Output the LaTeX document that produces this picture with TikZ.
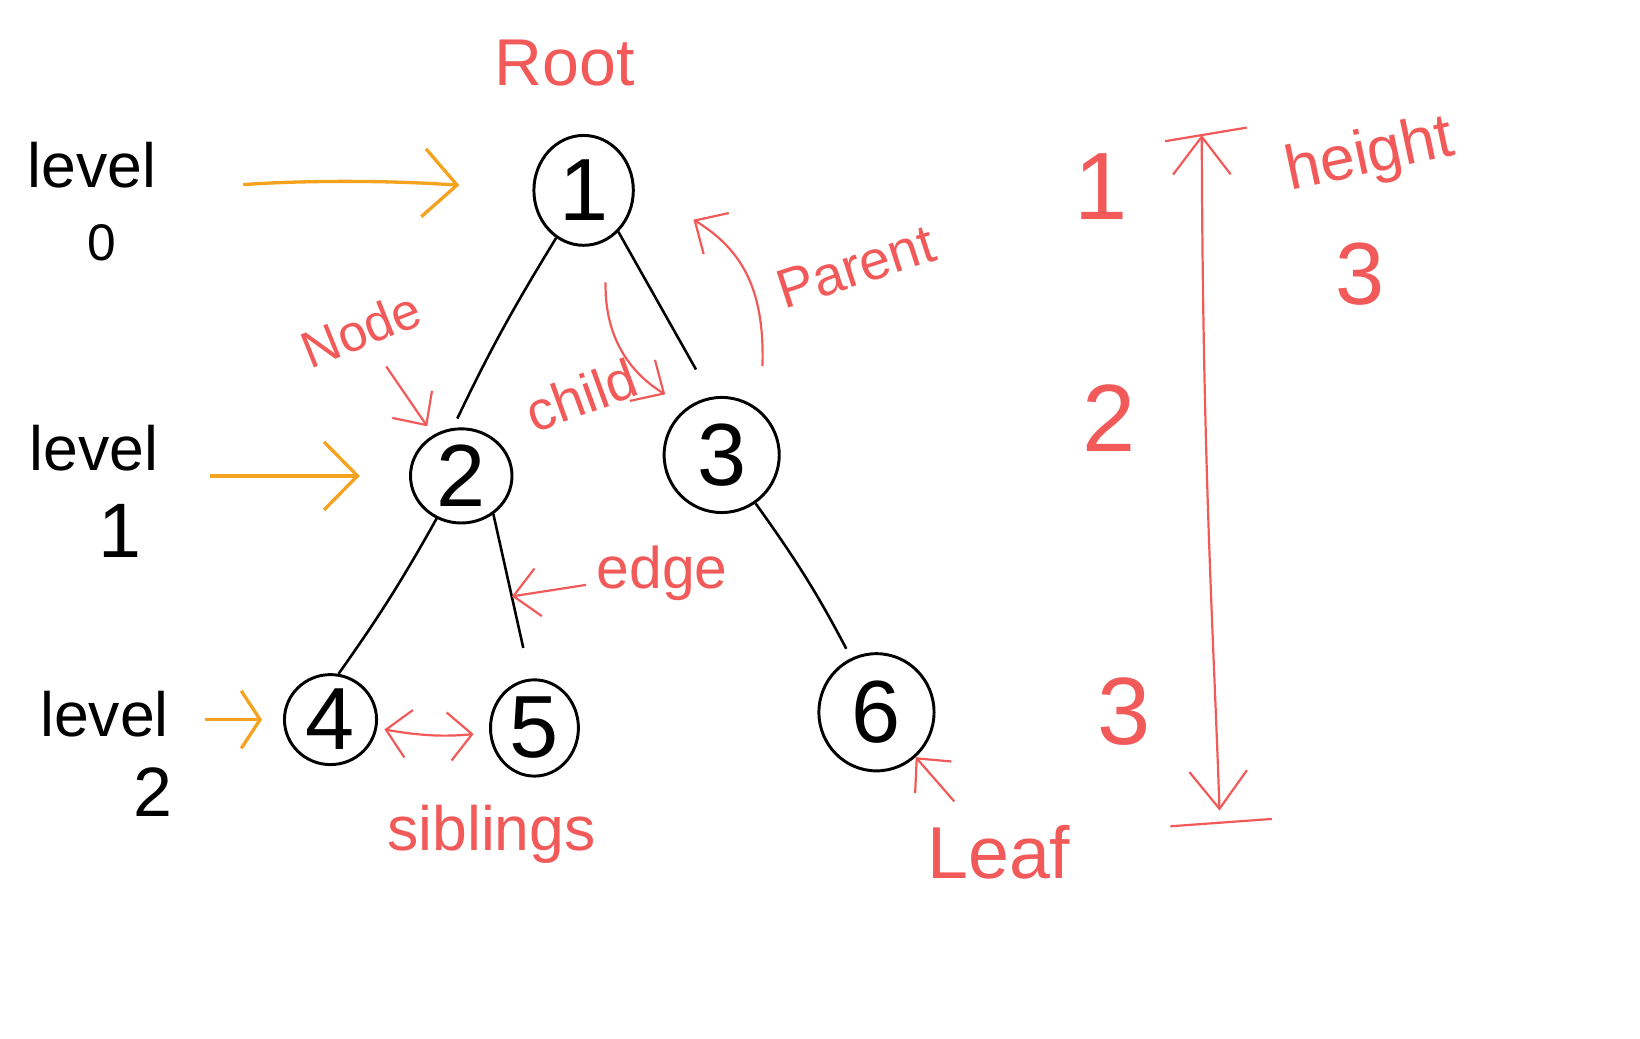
\documentclass[tikz,border=0pt]{standalone}
\usepackage{fontspec}
\setmainfont{Liberation Sans}
\usepackage{xcolor}
\usepackage{tikz}
\usetikzlibrary{positioning,arrows.meta,shapes.geometric,calc}
\definecolor{penred}{HTML}{F25A5A}
\definecolor{penorange}{HTML}{F5A21F}
\tikzset{
  vert/.style={draw,ellipse,line width=0.8pt,inner sep=0pt,font=\fontsize{24}{24}\selectfont},
  lvl/.style={inner sep=1pt,font=\fontsize{17}{17}\selectfont},
  note/.style={text=penred,inner sep=1pt,font=\fontsize{16}{16}\selectfont},
  edg/.style={line width=0.7pt},
  oarr/.style={-{Straight Barb[length=3.2mm,width=6.5mm]},draw=penorange,line width=0.9pt},
  rarr/.style={-{Straight Barb[length=2.4mm,width=4.6mm]},draw=penred,line width=0.6pt},
  rline/.style={draw=penred,line width=0.6pt},
}
\begin{document}
\begin{tikzpicture}[x=0.01cm,y=-0.01cm]
\useasboundingbox (0,0) rectangle (1568,993);
% the tree
\node[vert,minimum width=9.5mm,minimum height=10.5mm] (n1) at (558,182) {1};
\node[vert,minimum width=9.7mm,minimum height=9mm] (n2) at (441,455) {2};
\node[vert,minimum width=11mm,minimum height=11mm] (n3) at (690,435) {3};
\node[vert,minimum width=8.8mm,minimum height=8.6mm] (n4) at (316,688) {4};
\node[vert,minimum width=8.4mm,minimum height=9.2mm] (n5) at (511,696) {5};
\node[vert,minimum width=11mm,minimum height=11.2mm] (n6) at (838,681) {6};
\draw[edg,shorten >=1mm] (n1.-120) to[bend right=3] (n2.100);
\draw[edg,shorten >=3mm] (n1.-50) -- (n3.100);
\draw[edg] (n2.-120) to[bend left=3] (n4.80);
\draw[edg,shorten >=3mm] (n2.-50) -- coordinate[pos=0.5] (e25) (n5.95);
\draw[edg,shorten >=1mm] (n3.-55) to[bend left=4] (n6.115);
% levels
\node[lvl] (lv0) at (88,158) {level};
\node[lvl,font=\fontsize{14}{14}\selectfont] (lv0n) at (97,232) {0};
\node[lvl] (lv1) at (90,428) {level};
\node[lvl,font=\fontsize{21}{21}\selectfont] (lv1n) at (115,508) {1};
\node[lvl] (lv2) at (100,683) {level};
\node[lvl,font=\fontsize{19}{19}\selectfont] (lv2n) at (146,757) {2};
\draw[oarr,shorten <=7.9mm,shorten >=7mm] (lv0.east |- n1) to[bend left=4] (n1.west);
\draw[oarr,shorten <=4.5mm,shorten >=4.7mm] (lv1.east |- n2) -- (n2.west);
\draw[oarr,-{Straight Barb[length=1.8mm,width=5.5mm]},shorten <=3mm,shorten >=2mm] (lv2.east |- n4) -- (n4.west);
% red notes
\node[note,font=\fontsize{18}{18}\selectfont] (root) at (540,60) {Root};
\node[note,rotate=22,font=\fontsize{14}{14}\selectfont] (nodelbl) at (345,315) {Node};
\draw[rarr,shorten <=2mm,shorten >=1mm] (nodelbl) -- (n2);
\node[note,rotate=20,font=\fontsize{15}{15}\selectfont] (childlbl) at (556,378) {child};
\coordinate (chtop) at (579,270);
\coordinate (chend) at (636,377);
\draw[rarr] (chtop) .. controls (578,320) and (600,355) .. (chend);
\node[note,rotate=18,font=\fontsize{15}{15}\selectfont] (parlbl) at (818,255) {Parent};
\coordinate (pabot) at (729,350);
\coordinate (patop) at (663,210);
\draw[rarr] (pabot) .. controls (731,280) and (712,240) .. (patop);
\node[note] (edgelbl) at (633,548) {edge};
\draw[rarr,shorten <=0.6mm] (edgelbl) -- (e25);
\draw[rarr,{Straight Barb[length=2.2mm,width=4.6mm]}-{Straight Barb[length=2.2mm,width=4.6mm]},shorten <=0.7mm,shorten >=1.5mm] (n4) to[bend right=8] (n5);
\node[note,font=\fontsize{17}{17}\selectfont] (siblbl) at (470,798) {siblings};
\node[note,font=\fontsize{20}{20}\selectfont] (leaflbl) at (955,815) {Leaf};
\draw[rarr,shorten <=2.5mm] (leaflbl) -- (n6);
% height
\node[note,font=\fontsize{26}{26}\selectfont] (h1) at (1053,178) {1};
\node[note,font=\fontsize{26}{26}\selectfont] (h2) at (1060,400) {2};
\node[note,font=\fontsize{26}{26}\selectfont] (h3) at (1075,680) {3};
\coordinate (htop) at (1149,129);
\coordinate (hbot) at (1166,775);
\draw[rarr,{Straight Barb[length=3.6mm,width=5.5mm]}-{Straight Barb[length=3.6mm,width=5.5mm]}] (htop) .. controls (1150,450) and (1160,600) .. (hbot);
\draw[rline] ($(htop)+(-35,6)$) -- ($(htop)+(43,-7)$);
\draw[rline] ($(hbot)+(-47,15)$) -- ($(hbot)+(50,8)$);
\node[note,rotate=12,font=\fontsize{17}{17}\selectfont] (hgtlbl) at (1310,150) {height};
\node[note,font=\fontsize{24}{24}\selectfont] (hgtnum) at (1300,262) {3};
\end{tikzpicture}
\end{document}
